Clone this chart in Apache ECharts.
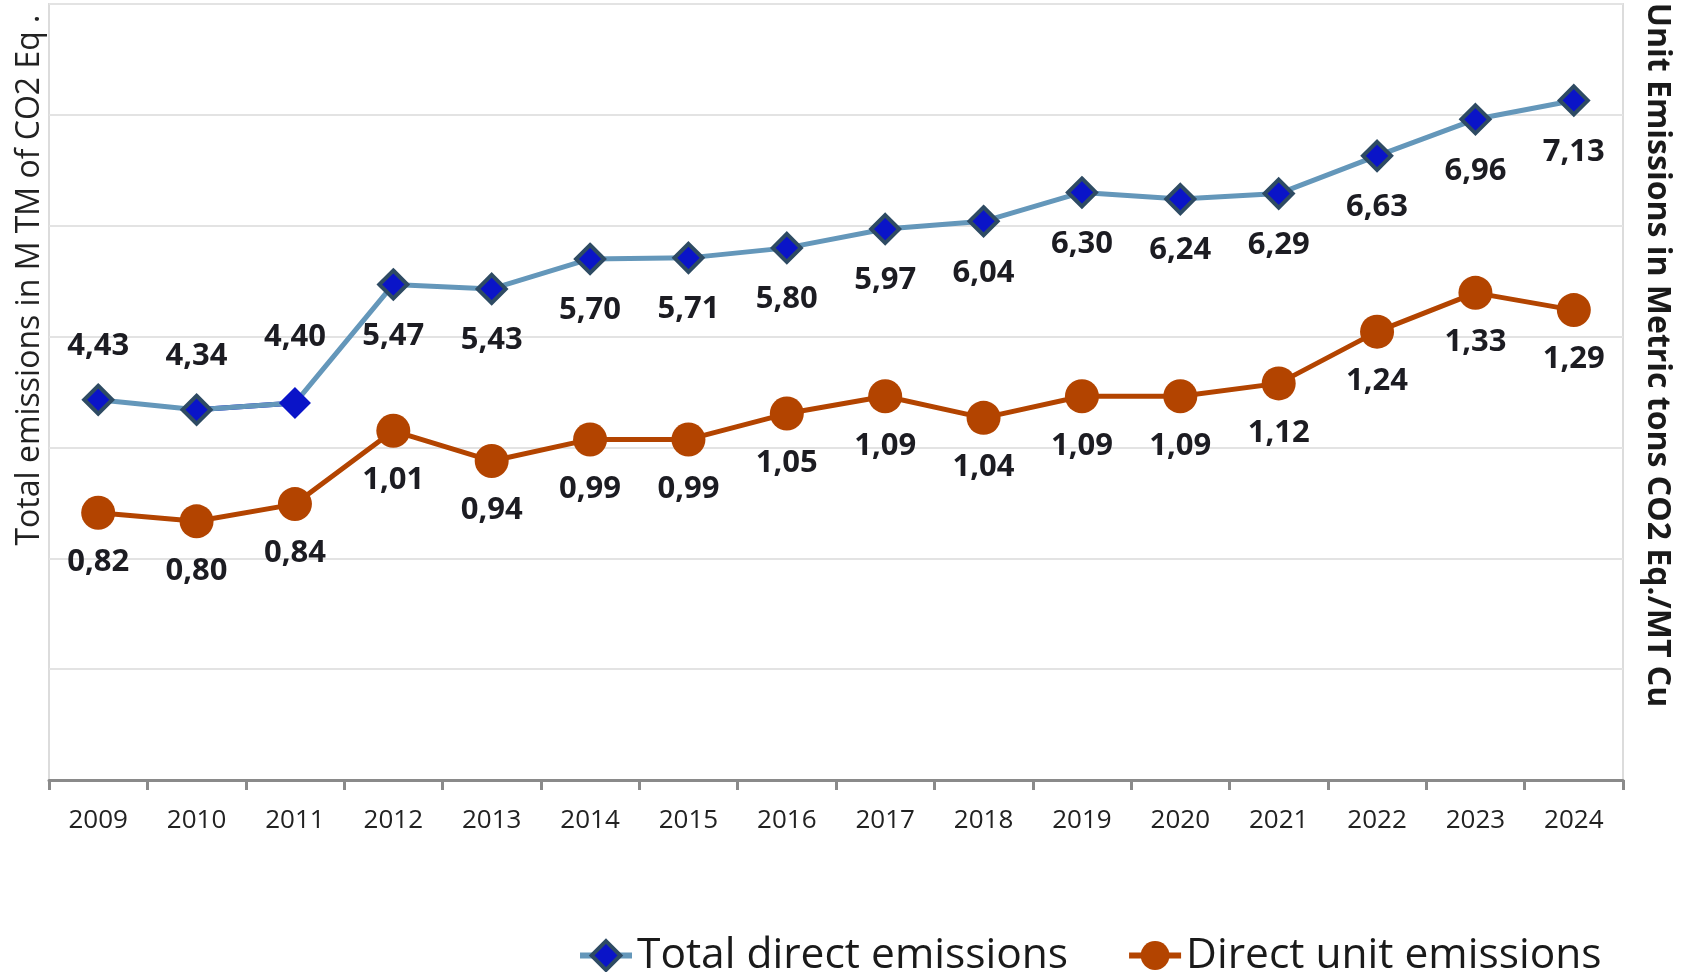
<!DOCTYPE html>
<html>
<head>
<meta charset="utf-8">
<script src="https://cdn.jsdelivr.net/npm/echarts@6/dist/echarts.min.js"></script>
<style>
html,body{margin:0;padding:0;background:#fff;}
#chart{width:1698px;height:972px;}
</style>
</head>
<body>
<div id="chart"></div>
<script>
const years = ['2009','2010','2011','2012','2013','2014','2015','2016','2017','2018','2019','2020','2021','2022','2023','2024'];
const totalDirect = [4.43, 4.34, 4.40, 5.47, 5.43, 5.70, 5.71, 5.80, 5.97, 6.04, 6.30, 6.24, 6.29, 6.63, 6.96, 7.13];
const unitDirect = [0.82, 0.80, 0.84, 1.01, 0.94, 0.99, 0.99, 1.05, 1.09, 1.04, 1.09, 1.09, 1.12, 1.24, 1.33, 1.29];
const seriesNames = ['Total direct emissions', 'Direct unit emissions'];
const leftTitle = 'Total emissions in M TM of CO2 Eq .';
const rightTitle = 'Unit Emissions in Metric tons CO2 Eq./MT Cu';

const FONT = '"Open Sans", "Noto Sans", sans-serif';
const fmt = v => Number(v).toFixed(2).replace('.', ',');
const labelBase = {show: true, fontFamily: FONT, fontWeight: 'bold', fontSize: 31, color: '#1c1c22', formatter: p => fmt(p.value)};

const totalData = totalDirect.map((v, i) => {
  const item = {value: v, label: Object.assign({}, labelBase, i < 3 ? {position: 'top', distance: i === 2 ? 34 : 22} : {position: 'bottom', distance: 20})};
  if (i === 2) { item.itemStyle = {borderWidth: 0}; item.symbolSize = 32; }
  return item;
});
const highlightSeg = totalDirect.map((v, i) => (i === 1 || i === 2) ? v : '-');

const chart = echarts.init(document.getElementById('chart'), null, {renderer: 'canvas'});
chart.setOption({
  animation: false,
  backgroundColor: '#fff',
  grid: {left: 49, right: 75, top: 4, bottom: 192, show: true, borderColor: '#dcdcdc', borderWidth: 2},
  xAxis: {
    type: 'category', data: years, boundaryGap: true,
    axisLine: {lineStyle: {color: '#8a8a8a', width: 3}},
    axisTick: {show: true, length: 10, lineStyle: {color: '#8a8a8a', width: 3}},
    axisLabel: {fontFamily: FONT, fontSize: 26, color: '#222', margin: 28}
  },
  yAxis: [
    {type: 'value', min: 1, max: 8, interval: 1, axisLabel: {show: false}, axisLine: {show: false}, axisTick: {show: false},
     splitLine: {lineStyle: {color: '#e3e3e3', width: 2}}},
    {type: 'value', min: 0.2, max: 2.0, axisLabel: {show: false}, axisLine: {show: false}, axisTick: {show: false}, splitLine: {show: false}}
  ],
  legend: {
    data: [
      {name: seriesNames[0], itemStyle: {borderWidth: 4, borderColor: '#2e4b63'}},
      {name: seriesNames[1]}
    ],
    left: 572, top: 929, itemWidth: 52, itemHeight: 36, itemGap: 58,
    lineStyle: {width: 6},
    textStyle: {fontFamily: FONT, fontSize: 42.5, color: '#1a1a1a'}
  },
  graphic: [
    {type: 'text', x: 30, y: 280, rotation: Math.PI / 2,
     style: {text: leftTitle, fontFamily: FONT, fontSize: 32, fill: '#222', align: 'center', verticalAlign: 'middle'}},
    {type: 'text', x: 1657, y: 355, rotation: -Math.PI / 2,
     style: {text: rightTitle, fontFamily: FONT, fontWeight: 'bold', fontSize: 32, fill: '#1a1a1a', align: 'center', verticalAlign: 'middle'}}
  ],
  series: [
    {
      name: seriesNames[0], type: 'line', yAxisIndex: 0, data: totalData,
      symbol: 'diamond', symbolSize: 28, z: 3,
      lineStyle: {color: '#6497ba', width: 5},
      itemStyle: {color: '#0a14c8', borderColor: '#2e4b63', borderWidth: 4}
    },
    {
      name: 'seg', type: 'line', yAxisIndex: 0, data: highlightSeg, showSymbol: false, symbol: 'none', z: 2,
      lineStyle: {color: '#0a14c8', width: 5}, silent: true, tooltip: {show: false}
    },
    {
      name: seriesNames[1], type: 'line', yAxisIndex: 1, data: unitDirect,
      symbol: 'circle', symbolSize: 34, z: 3,
      lineStyle: {color: '#b34400', width: 5},
      itemStyle: {color: '#b34400'},
      label: Object.assign({}, labelBase, {position: 'bottom', distance: 17})
    }
  ]
});
</script>
</body>
</html>
